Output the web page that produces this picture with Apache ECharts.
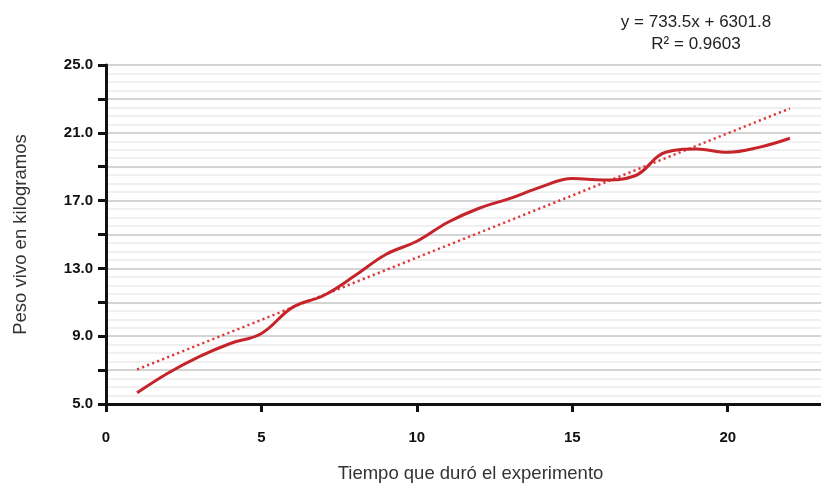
<!DOCTYPE html>
<html>
<head>
<meta charset="utf-8">
<script src="https://cdn.jsdelivr.net/npm/echarts@6/dist/echarts.min.js"></script>
<style>
  html, body { margin: 0; padding: 0; background: #ffffff; }
  #chart { width: 821px; height: 488px; }
</style>
</head>
<body>
<div id="chart"></div>
<script>
// Weeks of the trial (x) and live weight in kg (y)
const semanas = [1, 2, 3, 4, 5, 6, 7, 8, 9, 10, 11, 12, 13, 14, 15, 16, 17, 18, 19, 20, 21, 22];
const pesoKg = [5.66, 6.83, 7.80, 8.57, 9.16, 10.70, 11.40, 12.56, 13.82, 14.60, 15.72, 16.55,
                17.13, 17.81, 18.30, 18.22, 18.45, 19.85, 20.04, 19.85, 20.14, 20.68];

// Linear trend reported in grams: y = 733.5x + 6301.8, R² = 0.9603
const pendiente = 733.5;
const intercepto = 6301.8;
const r2 = 0.9603;
const tendenciaX = [1, 22];

// Axis settings
const yTicks = [5, 9, 13, 17, 21, 25];
const xTicks = [0, 5, 10, 15, 20];

const serieReal = semanas.map((s, i) => [s, pesoKg[i]]);
const serieTendencia = tendenciaX.map(x => [x, (pendiente * x + intercepto) / 1000]);

const chart = echarts.init(document.getElementById('chart'), null, { renderer: 'canvas' });

const fontFam = '"Liberation Sans", Arial, sans-serif';

chart.setOption({
  backgroundColor: '#ffffff',
  animation: false,
  grid: { left: 106, right: -6, top: 65, bottom: 75, containLabel: false },
  xAxis: {
    type: 'value',
    min: 0,
    max: 23,
    interval: 5,
    axisLine: { show: true, onZero: false, lineStyle: { color: '#111', width: 3 } },
    axisTick: { show: true, length: 8, lineStyle: { color: '#111', width: 3 } },
    axisLabel: {
      margin: 26, color: '#111', fontFamily: fontFam, fontSize: 15, fontWeight: 'bold',
      showMaxLabel: false,
      formatter: v => (xTicks.includes(v) ? String(v) : '')
    },
    splitLine: { show: false },
    name: 'Tiempo que duró el experimento',
    nameLocation: 'middle',
    nameGap: 60,
    nameTextStyle: { color: '#333', fontFamily: fontFam, fontSize: 18.5, padding: [0, 0, 0, 14] }
  },
  yAxis: {
    type: 'value',
    min: 5,
    max: 25,
    interval: 2,
    axisLine: { show: true, onZero: false, lineStyle: { color: '#111', width: 3 } },
    axisTick: { show: true, length: 8, lineStyle: { color: '#111', width: 3 } },
    axisLabel: {
      margin: 13, color: '#111', fontFamily: fontFam, fontSize: 15, fontWeight: 'bold',
      formatter: v => (yTicks.includes(v) ? v.toFixed(1) : '')
    },
    splitLine: { show: true, lineStyle: { color: '#d4d4d4', width: 2 } },
    minorTick: { show: false, splitNumber: 4 },
    minorSplitLine: { show: true, lineStyle: { color: '#ececec', width: 1.5 } },
    name: 'Peso vivo en kilogramos',
    nameLocation: 'middle',
    nameRotate: 90,
    nameGap: 76,
    nameTextStyle: { color: '#333', fontFamily: fontFam, fontSize: 18.5 }
  },
  series: [
    {
      name: 'Peso vivo',
      type: 'line',
      data: serieReal,
      smooth: 0.4,
      showSymbol: false,
      lineStyle: { color: '#c4242a', width: 3 },
      z: 3
    },
    {
      name: 'Tendencia lineal',
      type: 'line',
      data: serieTendencia,
      showSymbol: false,
      lineStyle: { color: '#e0383a', width: 2.5, type: [2.2, 3.2] },
      z: 2
    }
  ],
  graphic: [
    {
      type: 'text',
      x: 696,
      y: 22,
      style: {
        text: 'y = ' + pendiente.toFixed(1) + 'x + ' + intercepto.toFixed(1),
        fill: '#222', font: '17px ' + fontFam, align: 'center', verticalAlign: 'middle'
      }
    },
    {
      type: 'text',
      x: 696,
      y: 44,
      style: {
        text: 'R² = ' + r2.toFixed(4),
        fill: '#222', font: '17px ' + fontFam, align: 'center', verticalAlign: 'middle'
      }
    }
  ]
});
</script>
</body>
</html>
